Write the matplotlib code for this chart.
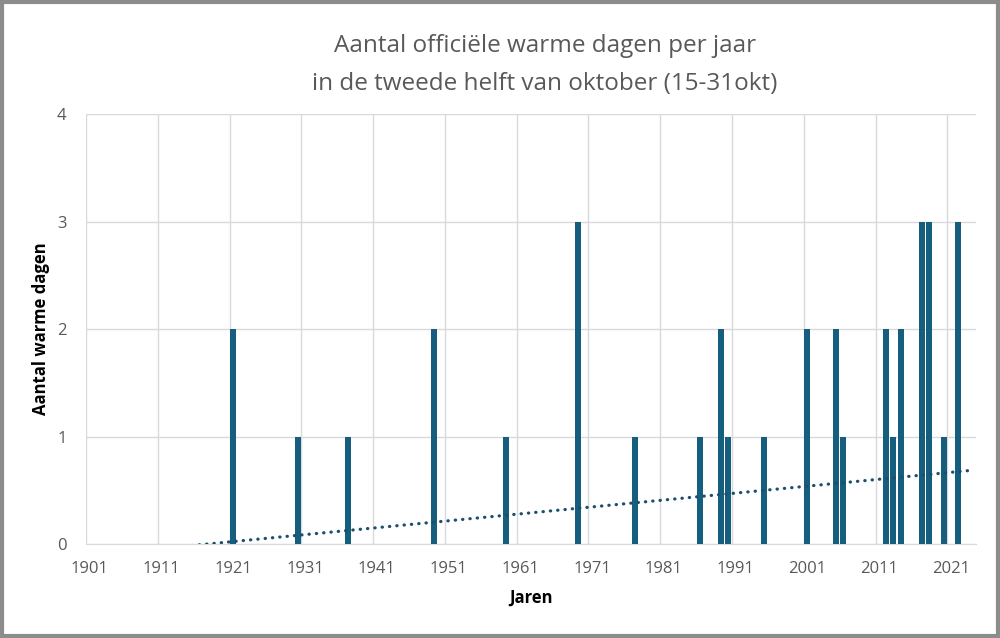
import numpy as np
import matplotlib
matplotlib.use("Agg")
import matplotlib.pyplot as plt
from matplotlib.patches import Rectangle

# Data
years = list(range(1901, 2025))
warm_years = [1921, 1930, 1937, 1949, 1959, 1969, 1977, 1986, 1989, 1990, 1995,
              2001, 2005, 2006, 2012, 2013, 2014, 2017, 2018, 2020, 2022]
warm_counts = [2, 1, 1, 2, 1, 3, 1, 1, 2, 1, 1,
               2, 2, 1, 2, 1, 2, 3, 3, 1, 3]
lookup = dict(zip(warm_years, warm_counts))
values = [lookup.get(y, 0) for y in years]
xtick_labels = [str(y) for y in range(1901, 2025, 10)]
title = "Aantal officiële warme dagen per jaar\nin de tweede helft van oktober (15-31okt)"

plt.rcParams['font.family'] = ['Open Sans', 'DejaVu Sans']

fig = plt.figure(figsize=(10, 6.38), dpi=100)
ax = fig.add_axes([0.086, 0.1473, 0.890, 0.674])

bar_color = '#165E7E'
ax.bar(years, values, width=0.84, color=bar_color, zorder=3)

# linear trendline (least squares)
xs = np.arange(1, len(years) + 1)
coef = np.polyfit(xs, values, 1)
trend = np.polyval(coef, xs)
ax.plot(years, trend, linestyle=(0, (0.1, 2.2)), color='#1B4F6B', lw=2.3,
        dash_capstyle='round', zorder=4)

ax.set_xlim(1900.5, 2024.5)
ax.set_ylim(0, 4)
ax.set_yticks([0, 1, 2, 3, 4])
ax.set_xticks(list(range(1901, 2025, 10)))
ax.set_xticklabels(xtick_labels)
ax.set_xticks(list(np.arange(1900.5, 2024, 10)), minor=True)
ax.grid(False)
ax.grid(True, which='minor', axis='x', color='#D9D9D9', lw=1, zorder=0)
ax.grid(True, which='major', axis='y', color='#D9D9D9', lw=1, zorder=0)
ax.tick_params(which='both', length=0)
ax.tick_params(axis='x', pad=12, labelsize=12, colors='#595959')
ax.tick_params(axis='y', pad=14, labelsize=12, colors='#595959')
for s in ['top', 'right', 'left']:
    ax.spines[s].set_visible(False)
ax.spines['bottom'].set_color('#D9D9D9')

ax.set_xlabel('Jaren', fontsize=12, fontweight='bold', color='black', labelpad=9)
ax.set_ylabel('Aantal warme dagen', fontsize=12, fontweight='bold', color='black', labelpad=5)

fig.text(0.545, 0.898, title, ha='center', va='center', fontsize=17.5,
         color='#595959', linespacing=1.75)

fig.patches.append(Rectangle((0.002, 0.003), 0.996, 0.994, transform=fig.transFigure,
                             fill=False, edgecolor='#8C8C8C', lw=3))

fig.savefig('out.png', dpi=100)
